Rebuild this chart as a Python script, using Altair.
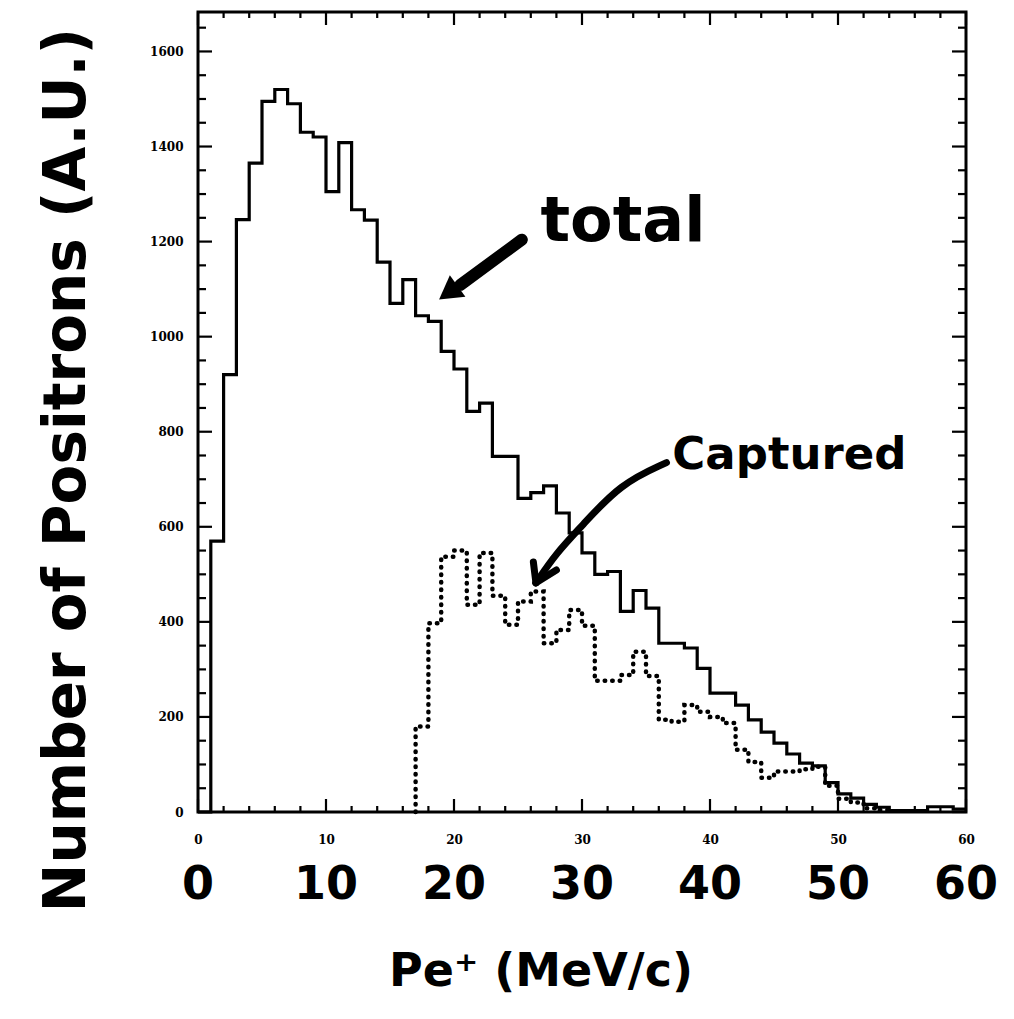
import altair as alt
import pandas as pd

# ---------------- data ----------------
bin_edges = list(range(0, 61))          # 1 MeV/c bins from 0 to 60
total_counts = [0, 570, 920, 1246, 1365, 1495, 1520, 1490, 1430, 1420,
                1305, 1408, 1267, 1245, 1157, 1070, 1120, 1044, 1032, 969,
                932, 843, 860, 748, 748, 660, 672, 686, 629, 587,
                545, 500, 506, 422, 466, 429, 355, 355, 345, 302,
                250, 250, 225, 194, 168, 145, 122, 103, 97, 62,
                38, 29, 16, 10, 3, 3, 3, 11, 11, 6]
captured_first_bin = 17
captured_counts = [180, 397, 537, 550, 436, 545, 455, 394, 443, 464,
                   355, 383, 425, 392, 276, 276, 288, 337, 286, 194,
                   190, 225, 211, 200, 187, 131, 105, 72, 85, 85,
                   90, 95, 55, 28, 20, 8, 4]

x_major_ticks = [0, 10, 20, 30, 40, 50, 60]
x_minor_ticks = [2, 4, 6, 8, 12, 14, 16, 18, 22, 24, 26, 28, 32, 34, 36, 38,
                 42, 44, 46, 48, 52, 54, 56, 58]
y_major_ticks = [0, 200, 400, 600, 800, 1000, 1200, 1400, 1600]
y_minor_ticks = [50, 100, 150, 250, 300, 350, 450, 500, 550, 650, 700, 750,
                 850, 900, 950, 1050, 1100, 1150, 1250, 1300, 1350, 1450,
                 1500, 1550, 1650]
hand_x_labels = ["0", "10", "20", "30", "40", "50", "60"]

# annotation anchors (data units)
label_text = ["total", "Captured"]
label_x = [33.2, 46.2]
label_y = [1242, 752]
total_arrow_x = [25.3, 20.5]
total_arrow_y = [1204, 1109]
total_head_x = [19.8]
total_head_y = [1097]
capt_arrow_x = [36.6, 33.0, 29.9, 28.0, 26.4]
capt_arrow_y = [735, 691, 599, 545, 482]
capt_head_x0 = [26.4, 26.4]
capt_head_y0 = [482, 482]
capt_head_x1 = [26.2, 28.0]
capt_head_y1 = [526, 509]

# ---------------- tables ----------------
tot_df = pd.DataFrame({
    "x": bin_edges,
    "y": total_counts + [total_counts[-1]],
})
tot_df["i"] = range(len(tot_df))

cap_edges = list(range(captured_first_bin, captured_first_bin + len(captured_counts) + 1))
cap_df = pd.DataFrame({
    "x": [captured_first_bin] + cap_edges,
    "y": [0] + captured_counts + [0],
})
cap_df["i"] = range(len(cap_df))

W, H = 768, 800
xs = alt.Scale(domain=[0, 60], nice=False, zero=False)
ys = alt.Scale(domain=[0, 1683], nice=False)
HAND = "DejaVu Sans"
PRINT = "DejaVu Serif"

xax = alt.Axis(values=x_major_ticks, title=None, labelFont=PRINT, labelFontWeight="bold",
               labelFontSize=12, labelPadding=22, labelColor="black", ticks=False,
               domain=False, grid=False, labelFlush=False, format="d")
yax = alt.Axis(values=y_major_ticks, title=None, labelFont=PRINT, labelFontWeight="bold",
               labelFontSize=12, labelPadding=15, labelColor="black", ticks=False,
               domain=False, grid=False, labelFlush=False, format="d")


def X(f="x"):
    return alt.X(f"{f}:Q", scale=xs, axis=xax)


def Y(f="y"):
    return alt.Y(f"{f}:Q", scale=ys, axis=yax)


total_line = alt.Chart(tot_df).mark_line(
    interpolate="step-after", color="black", strokeWidth=3.2
).encode(x=X(), y=Y(), order="i:Q")

capt_line = alt.Chart(cap_df).mark_line(
    interpolate="step-after", color="black", strokeWidth=4.5,
    strokeDash=[0.5, 7], strokeCap="round"
).encode(x=X(), y=Y(), order="i:Q")

# inward ticks on all four sides
ymaj = pd.DataFrame({"y": y_major_ticks})
ymin = pd.DataFrame({"y": y_minor_ticks})
xmaj = pd.DataFrame({"x": x_major_ticks})
xmin = pd.DataFrame({"x": x_minor_ticks})
rule = dict(color="black", strokeWidth=2.2)
ticks = [
    alt.Chart(ymaj).mark_rule(**rule).encode(y=Y(), x=alt.value(0), x2=alt.value(14)),
    alt.Chart(ymin).mark_rule(**rule).encode(y=Y(), x=alt.value(0), x2=alt.value(8)),
    alt.Chart(ymaj).mark_rule(**rule).encode(y=Y(), x=alt.value(W), x2=alt.value(W - 14)),
    alt.Chart(ymin).mark_rule(**rule).encode(y=Y(), x=alt.value(W), x2=alt.value(W - 8)),
    alt.Chart(xmaj).mark_rule(**rule).encode(x=X(), y=alt.value(H), y2=alt.value(H - 13)),
    alt.Chart(xmin).mark_rule(**rule).encode(x=X(), y=alt.value(H), y2=alt.value(H - 6)),
    alt.Chart(xmaj).mark_rule(**rule).encode(x=X(), y=alt.value(0), y2=alt.value(13)),
    alt.Chart(xmin).mark_rule(**rule).encode(x=X(), y=alt.value(0), y2=alt.value(6)),
]

# handwritten axis numbers and titles
hand_nums = alt.Chart(pd.DataFrame({"x": x_major_ticks, "t": hand_x_labels})).mark_text(
    font=HAND, fontWeight="bold", fontSize=46, baseline="middle", align="center", color="black"
).encode(x=X(), y=alt.value(873), text="t:N")

x_title = alt.Chart(pd.DataFrame({"t": ["Pe\u207a (MeV/c)"]})).mark_text(
    font=HAND, fontWeight="bold", fontSize=46, baseline="middle", align="center", color="black"
).encode(x=alt.value(343), y=alt.value(960), text="t:N")

y_title = alt.Chart(pd.DataFrame({"t": ["Number of Positrons (A.U.)"]})).mark_text(
    font=HAND, fontWeight="bold", fontSize=58, baseline="middle", align="center", angle=270, color="black"
).encode(x=alt.value(-130), y=alt.value(458), text="t:N")

labels = alt.Chart(pd.DataFrame({"x": label_x, "y": label_y, "t": label_text})).mark_text(
    font=HAND, fontWeight="bold", baseline="middle", align="center", color="black"
).encode(x=X(), y=Y(), text="t:N",
         size=alt.Size("t:N", scale=alt.Scale(domain=label_text, range=[62, 45]), legend=None))

t_arrow = alt.Chart(pd.DataFrame({"x": [total_arrow_x[0]], "y": [total_arrow_y[0]],
                                  "x2": [total_arrow_x[1]], "y2": [total_arrow_y[1]]})).mark_rule(
    color="black", strokeWidth=12, strokeCap="round"
).encode(x=X(), y=Y(), x2="x2:Q", y2="y2:Q")

t_head = alt.Chart(pd.DataFrame({"x": total_head_x, "y": total_head_y})).mark_point(
    shape="triangle", filled=True, color="black", opacity=1, size=700, angle=234
).encode(x=X(), y=Y())

c_df = pd.DataFrame({"x": capt_arrow_x, "y": capt_arrow_y})
c_df["i"] = range(len(c_df))
c_arrow = alt.Chart(c_df).mark_line(
    interpolate="basis", color="black", strokeWidth=7, strokeCap="round"
).encode(x=X(), y=Y(), order="i:Q")

c_head = alt.Chart(pd.DataFrame({"x": capt_head_x0, "y": capt_head_y0,
                                 "x2": capt_head_x1, "y2": capt_head_y1})).mark_rule(
    color="black", strokeWidth=7, strokeCap="round"
).encode(x=X(), y=Y(), x2="x2:Q", y2="y2:Q")

chart = alt.layer(
    total_line, capt_line, *ticks, hand_nums, x_title, y_title,
    labels, t_arrow, t_head, c_arrow, c_head
).properties(
    width=W, height=H,
    autosize=alt.AutoSizeParams(type="none"),
    padding={"left": 198, "top": 12, "right": 48, "bottom": 207},
    background="white",
).configure_view(
    stroke="black", strokeWidth=3
)

chart.save("out.html", embed_options={"renderer": "svg", "actions": False})
